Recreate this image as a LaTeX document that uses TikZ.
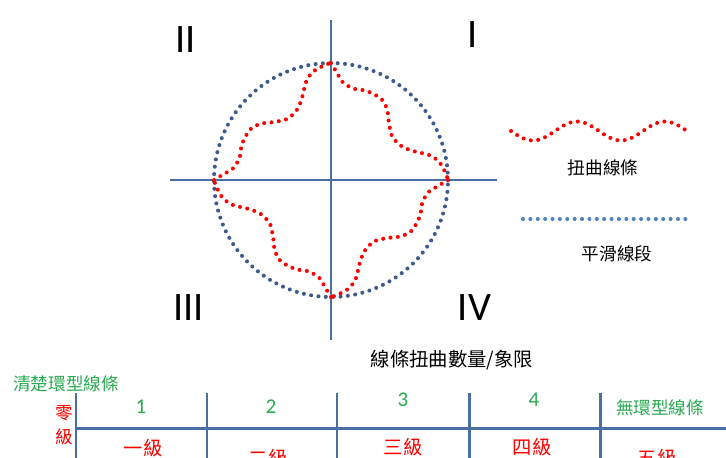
\documentclass[tikz,border=0pt]{standalone}
\usepackage{fontspec}
\setmainfont{Carlito}
\newfontfamily\cjk{Noto Sans CJK TC}
\usetikzlibrary{positioning}
\definecolor{axisblue}{RGB}{74,111,165}
\definecolor{dotblue}{RGB}{60,90,140}
\definecolor{legblue}{RGB}{79,129,189}
\definecolor{lvgreen}{RGB}{40,170,80}

\begin{document}
\begin{tikzpicture}[
  x=0.02cm, y=-0.02cm,
  axis/.style={draw=axisblue, line width=1.2pt},
  grid/.style={draw=axisblue, line width=1.7pt},
  reddots/.style={draw=red, line width=2.3pt, line cap=round, dash pattern=on 0pt off 4.2pt},
  bluedots/.style={draw=#1, line width=2.3pt, line cap=round, dash pattern=on 0pt off 4.2pt},
  quad/.style={font=\fontsize{23}{23}\selectfont, inner sep=0pt},
  captxt/.style={font=\cjk\fontsize{10}{10}\selectfont, inner sep=0pt},
  lvtext/.style={font=\cjk\fontsize{11}{11}\selectfont, text=red, inner sep=0pt},
  num/.style={font=\fontsize{12}{12}\selectfont, text=lvgreen, inner sep=0pt}
]
\useasboundingbox (0,0) rectangle (726,457);

% axes and circle
\coordinate (ctr) at (331,180);
\coordinate (axT) at (331,20);
\coordinate (axB) at (331,340);
\coordinate (axL) at (170,180);
\coordinate (axR) at (497,180);
\draw[axis] (axT) -- (axB);
\draw[axis] (axL) -- (axR);
\draw[bluedots=dotblue] (ctr) circle[radius=2.34cm];

% twisted line, one quarter turned four times
\begin{scope}[shift={(ctr)}, yscale=-1]
  \foreach \a in {0,90,180,270}
    \draw[reddots, rotate=\a] plot[smooth] coordinates {
      (0,117) (6.3,106.7) (11.3,98.3) (21.3,91.7) (31.3,90) (41.3,86.7)
      (51.3,80) (56.3,70) (58,56.7) (61.3,43.3) (71.3,33.3) (84.7,28.3)
      (98,25) (108,18.3) (114.7,6.7) (117,0)};
\end{scope}

\node[quad] (quadII) at (185.5,39.5) {II};
\node[quad] (quadI) at (473,34.5) {I};
\node[quad] (quadIII) at (188.5,308) {III};
\node[quad] (quadIV) at (474.5,307.5) {IV};

% legend
\draw[reddots] plot[domain=0:178, samples=80] ({511+\x}, {131+9.5*sin(4.0909*\x)});
\node[captxt] (twistLabel) at (603,168) {扭曲線條};
\coordinate (legL) at (523,219);
\coordinate (legR) at (687,219);
\draw[bluedots=legblue] (legL) -- (legR);
\node[captxt] (smoothLabel) at (617,254) {平滑線段};

% level scale
\node[font=\cjk\fontsize{11}{11}\selectfont, inner sep=0pt] (title) at (452,360) {線條扭曲數量/象限};
\node[captxt, text=lvgreen] (clearLabel) at (66,384) {清楚環型線條};
\node[captxt, text=red] (zeroA) at (64,413) {零};
\node[captxt, text=red, below=4pt of zeroA] (zeroB) {級};

\foreach \x [count=\i] in {76,207,337,469,600}
  \coordinate (tick\i) at (\x,393);
\coordinate (rowL) at (76,428);
\coordinate (rowR) at (730,428);
\foreach \i in {1,...,5}
  \draw[grid] (tick\i) -- ++(0,70);
\draw[grid] (rowL) -- (rowR);

\node[num] (n1) at (141,407) {1};
\node[num] (n2) at (271,407) {2};
\node[num] (n3) at (403,400) {3};
\node[num] (n4) at (534,400) {4};
\node[captxt, text=lvgreen] (noneLabel) at (660,408) {無環型線條};

\node[lvtext] (lv1) at (143,448) {一級};
\node[lvtext] (lv2) at (268,458) {二級};
\node[lvtext] (lv3) at (403,447) {三級};
\node[lvtext] (lv4) at (532,447) {四級};
\node[lvtext] (lv5) at (657,458) {五級};
\end{tikzpicture}
\end{document}
